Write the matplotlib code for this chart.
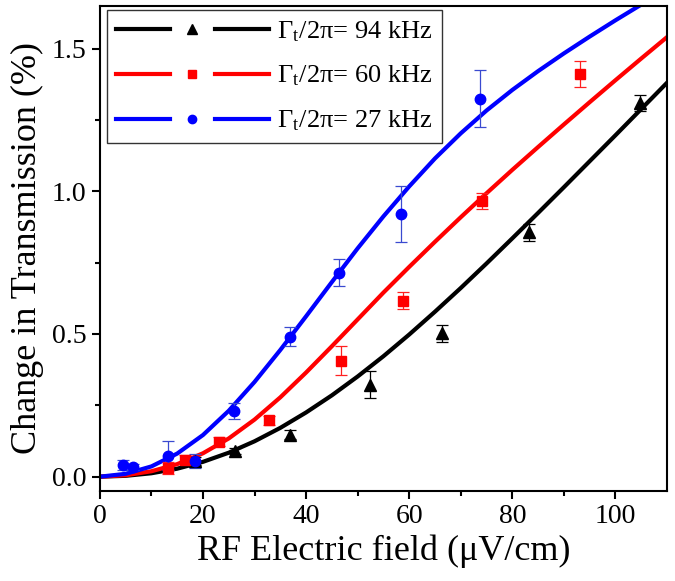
import matplotlib
matplotlib.use('Agg')
import matplotlib.pyplot as plt
from matplotlib.lines import Line2D
from matplotlib.legend_handler import HandlerBase

plt.rcParams['font.family'] = ['Liberation Serif', 'DejaVu Serif']
plt.rcParams['mathtext.fontset'] = 'stix'

# measured points (field uV/cm, change %, error)
x_94 = [18.4, 26.3, 36.9, 52.4, 66.4, 83.3, 104.8]
y_94 = [0.055, 0.09, 0.147, 0.322, 0.502, 0.856, 1.31]
e_94 = [0.015, 0.012, 0.015, 0.048, 0.03, 0.03, 0.027]

x_60 = [13.2, 16.5, 23.2, 32.9, 46.8, 58.8, 74.1, 93.2]
y_60 = [0.03, 0.06, 0.123, 0.197, 0.407, 0.617, 0.966, 1.41]
e_60 = [0.02, 0.015, 0.015, 0.015, 0.052, 0.03, 0.027, 0.045]

x_27 = [4.5, 6.4, 13.2, 18.4, 26.1, 36.9, 46.4, 58.5, 73.7]
y_27 = [0.04, 0.033, 0.074, 0.055, 0.229, 0.49, 0.715, 0.921, 1.324]
e_27 = [0.018, 0.01, 0.05, 0.025, 0.028, 0.033, 0.048, 0.099, 0.1]

# fit curves
fit_x = [0, 5, 10, 15, 20, 25, 30, 35, 40, 45, 50, 55, 60, 65, 70, 75, 80, 85, 90, 95, 100, 105, 110]
fit_94 = [0, 0.003, 0.012, 0.028, 0.052, 0.084, 0.124, 0.171, 0.225, 0.285, 0.351, 0.422, 0.498,
          0.578, 0.661, 0.747, 0.835, 0.924, 1.014, 1.105, 1.196, 1.288, 1.380]
fit_60 = [0, 0.005, 0.019, 0.044, 0.082, 0.134, 0.200, 0.278, 0.365, 0.457, 0.551, 0.645, 0.735,
          0.823, 0.909, 0.993, 1.075, 1.155, 1.234, 1.312, 1.389, 1.465, 1.540]
fit_27 = [0, 0.010, 0.036, 0.081, 0.146, 0.231, 0.332, 0.444, 0.562, 0.682, 0.800, 0.912, 1.017,
          1.115, 1.203, 1.283, 1.355, 1.421, 1.483, 1.542, 1.599, 1.654, 1.708]

labels = ['Γ$_\\mathregular{t}$/2π= 94 kHz', 'Γ$_\\mathregular{t}$/2π= 60 kHz', 'Γ$_\\mathregular{t}$/2π= 27 kHz']
colors = ['black', '#ff0000', '#0000ff']
ecolors = ['black', '#ff2020', '#3a4ad0']
markers = ['^', 's', 'o']
msizes = [9, 6.5, 7.5]


class GapHandler(HandlerBase):
    # line - marker - line, like the original legend
    def create_artists(self, legend, orig_handle, xdescent, ydescent, width, height, fontsize, trans):
        y = height / 2 - ydescent
        x0 = -xdescent
        seg = width * 0.35
        c = orig_handle.get_color()
        a = Line2D([x0, x0 + seg], [y, y], color=c, lw=orig_handle.get_linewidth(), transform=trans)
        b = Line2D([x0 + width - seg, x0 + width], [y, y], color=c, lw=orig_handle.get_linewidth(), transform=trans)
        m = Line2D([x0 + width / 2], [y], color=c, marker=orig_handle.get_marker(), ls='none',
                   ms=orig_handle.get_markersize() * 0.8, transform=trans)
        return [a, b, m]


fig = plt.figure(figsize=(6.75, 5.81), dpi=100)
ax = fig.add_axes([0.148, 0.155, 0.840, 0.835])

fits = [fit_94, fit_60, fit_27]
xs = [x_94, x_60, x_27]
ys = [y_94, y_60, y_27]
es = [e_94, e_60, e_27]
proxies = []
for i in range(3):
    ax.plot(fit_x, fits[i], color=colors[i], lw=3, zorder=2)
    ax.errorbar(xs[i], ys[i], yerr=es[i], fmt=markers[i], color=colors[i], ms=msizes[i],
                ecolor=ecolors[i], elinewidth=0.9, capsize=4, capthick=0.9, zorder=3)
    proxies.append(Line2D([], [], color=colors[i], lw=3, marker=markers[i], ms=msizes[i]))

ax.set_xlim(0, 110)
ax.set_ylim(-0.05, 1.65)
ax.set_xticks([0, 20, 40, 60, 80, 100])
ax.set_xticks(range(10, 110, 20), minor=True)
ax.set_yticks([0.0, 0.5, 1.0, 1.5])
ax.set_yticks([0.25, 0.75, 1.25], minor=True)
ax.set_yticklabels(['0.0', '0.5', '1.0', '1.5'])
ax.tick_params(which='both', direction='out', width=1.5, labelsize=20, top=False, right=False)
ax.tick_params(which='major', length=6)
ax.tick_params(which='minor', length=3.5)
for s in ax.spines.values():
    s.set_linewidth(1.5)

ax.set_xlabel('RF Electric field (μV/cm)', fontsize=26, labelpad=4)
ax.set_ylabel('Change in Transmission (%)', fontsize=26, labelpad=6)

leg = ax.legend(proxies, labels, handler_map={Line2D: GapHandler()}, loc='upper left',
                bbox_to_anchor=(0.012, 0.992), borderaxespad=0, fontsize=19, handlelength=5.8,
                handletextpad=0.3, labelspacing=0.77, borderpad=0.35, fancybox=False,
                edgecolor='#333333', framealpha=1)
leg.get_frame().set_linewidth(1.0)

plt.savefig('out.png', dpi=100)
